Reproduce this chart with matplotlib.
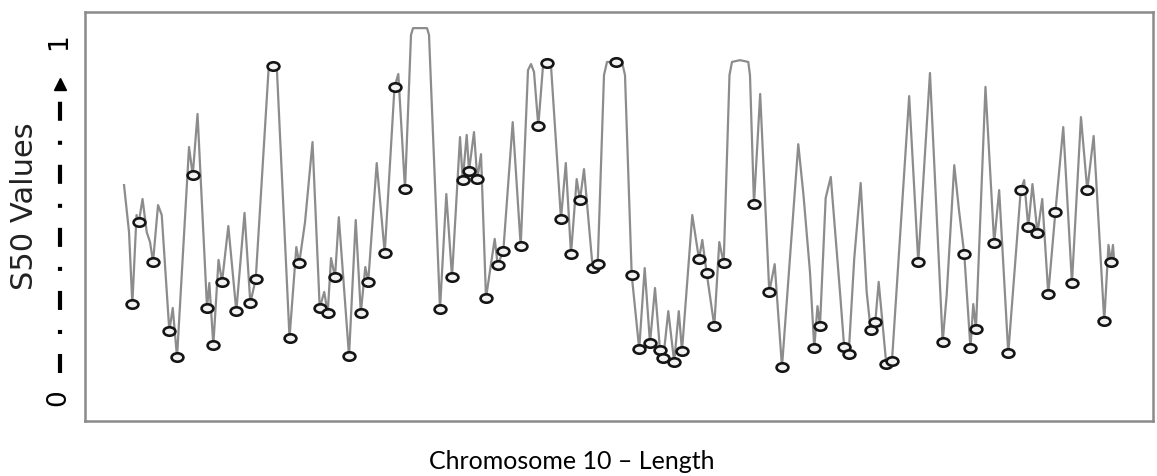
import matplotlib
matplotlib.use("Agg")
import matplotlib.pyplot as plt
from matplotlib.path import Path
from matplotlib.transforms import Affine2D

plt.rcParams['lines.scale_dashes'] = False

# S50 profile along chromosome 10 (position in arbitrary length units)
pos = [1, 6, 9.3, 13.5, 15.8, 19.5, 23.7, 27, 30, 35, 38.7, 45.3, 46.3, 49.7, 54,
       66, 69.7, 74.5, 84, 86.3, 90.3, 95.5, 99, 105.3, 113.3, 121.5, 127.3, 132.7,
       145.5, 147, 149.5, 152, 154, 166.5, 173.3, 176.2, 182, 189.5, 196.7, 201.2,
       204.7, 208, 212, 215.8, 226, 232.7, 237.8, 242.3, 245.2, 253.7, 261.7, 271.5,
       275.3, 282, 288, 290, 304, 306, 317, 323.3, 329, 337, 339.7, 343.7, 346, 351,
       354.3, 358, 363, 371.7, 374.7, 380.3, 389.7, 397.7, 405, 408, 411, 415.3, 420,
       423.7, 428, 438, 442.8, 448, 453.7, 457, 461, 469.7, 474.7, 481, 484, 493.5,
       499, 502, 508.7, 516.2, 521.7, 527, 532, 537, 540.3, 545.3, 551.2, 555.8, 559,
       569.3, 576, 579.3, 583.7, 591.3, 596.3, 600.7, 606.5, 609, 617, 625.3, 627,
       631, 637.2, 646.3, 651.7, 659, 675.3, 680.5, 687, 691.3, 694.5, 697, 702.7,
       707.8, 717, 721.2, 725.7, 731.3, 737.7, 743.7, 747.7, 752.3, 755.7, 763.3, 769,
       786.2, 795.3, 807, 819.7, 823.7, 831.3, 836, 841.3, 847.5, 850.3, 853, 862.5,
       871.2, 876.2, 885.3, 897.8, 901.2, 905.3, 909.5, 914.5, 919.3, 925.3, 932.4,
       940.3, 949, 958, 964.3, 970.7, 981.3, 985.5, 988, 990, 991]
s50 = [0.598, 0.466, 0.264, 0.514, 0.494, 0.559, 0.466, 0.438, 0.382, 0.542, 0.514,
       0.233, 0.188, 0.253, 0.115, 0.705, 0.626, 0.798, 0.253, 0.323, 0.149, 0.388,
       0.326, 0.483, 0.244, 0.520, 0.267, 0.334, 0.921, 0.935, 0.933, 0.935, 0.916,
       0.169, 0.424, 0.379, 0.494, 0.719, 0.253, 0.298, 0.239, 0.393, 0.340, 0.508,
       0.118, 0.500, 0.239, 0.368, 0.326, 0.660, 0.407, 0.874, 0.910, 0.587, 1.020,
       1.039, 1.039, 1.020, 0.250, 0.573, 0.340, 0.733, 0.612, 0.739, 0.638, 0.747,
       0.615, 0.685, 0.281, 0.447, 0.374, 0.413, 0.775, 0.427, 0.921, 0.938, 0.916,
       0.764, 0.933, 0.941, 0.933, 0.503, 0.660, 0.404, 0.615, 0.556, 0.643, 0.365,
       0.376, 0.907, 0.944, 0.944, 0.944, 0.907, 0.346, 0.138, 0.365, 0.154, 0.309,
       0.135, 0.112, 0.244, 0.101, 0.244, 0.132, 0.514, 0.390, 0.444, 0.351, 0.202,
       0.438, 0.379, 0.907, 0.944, 0.949, 0.944, 0.907, 0.545, 0.854, 0.298, 0.376,
       0.087, 0.713, 0.570, 0.354, 0.140, 0.258, 0.202, 0.562, 0.621, 0.298, 0.143,
       0.124, 0.393, 0.604, 0.298, 0.191, 0.213, 0.326, 0.096, 0.104, 0.848, 0.382,
       0.913, 0.157, 0.289, 0.654, 0.528, 0.404, 0.140, 0.264, 0.194, 0.874, 0.435,
       0.584, 0.126, 0.584, 0.612, 0.480, 0.601, 0.463, 0.559, 0.292, 0.522, 0.761,
       0.323, 0.789, 0.584, 0.736, 0.216, 0.430, 0.382, 0.430, 0.393]

# marked points on the profile
mark_pos = [9.3, 15.8, 30, 46.3, 54, 69.7, 84, 90.3, 99, 113.3, 127.3, 132.7, 149.5,
            166.5, 176.2, 196.7, 204.7, 212, 226, 237.8, 245.2, 261.7, 271.5, 282,
            317, 329, 339.7, 346, 354.3, 363, 374.7, 380.3, 397.7, 415.3, 423.7, 438,
            448, 457, 469.7, 474.7, 493.5, 508.7, 516.2, 527, 537, 540.3, 551.2, 559,
            576, 583.7, 591.3, 600.7, 631, 646.3, 659, 691.3, 697, 721.2, 725.7, 747.7,
            752.3, 763.3, 769, 795.3, 819.7, 841.3, 847.5, 853, 871.2, 885.3, 897.8,
            905.3, 914.5, 925.3, 932.4, 949, 964.3, 981.3, 988]
mark_s50 = [0.264, 0.494, 0.382, 0.188, 0.115, 0.626, 0.253, 0.149, 0.326, 0.244,
            0.267, 0.334, 0.933, 0.169, 0.379, 0.253, 0.239, 0.340, 0.118, 0.239,
            0.326, 0.407, 0.874, 0.587, 0.250, 0.340, 0.612, 0.638, 0.615, 0.281,
            0.374, 0.413, 0.427, 0.764, 0.941, 0.503, 0.404, 0.556, 0.365, 0.376,
            0.944, 0.346, 0.138, 0.154, 0.135, 0.112, 0.101, 0.132, 0.390, 0.351,
            0.202, 0.379, 0.545, 0.298, 0.087, 0.140, 0.202, 0.143, 0.124, 0.191,
            0.213, 0.096, 0.104, 0.382, 0.157, 0.404, 0.140, 0.194, 0.435, 0.126,
            0.584, 0.480, 0.463, 0.292, 0.522, 0.323, 0.584, 0.216, 0.382]

fig = plt.figure(figsize=(11.57, 4.76), dpi=100)
ax = fig.add_axes([0.0735, 0.1155, 0.923, 0.8593])

# flattened circle marker
oval = Path.unit_circle().transformed(Affine2D().scale(1.4, 1.0))

ax.plot(pos, s50, color='#8c8c8c', lw=1.6, solid_joinstyle='round', zorder=2)
ax.plot(mark_pos, mark_s50, ls='none', marker=oval, ms=8.5, mfc='#f2f2f2',
        mec='#151515', mew=1.9, zorder=3)

ax.set_xlim(-38, 1030)
ax.set_ylim(-0.0646, 1.0843)
ax.set_xticks([])
ax.set_yticks([0, 1])
ax.set_yticklabels(['0', '1'], rotation=90, va='center', ha='center', fontsize=19)
ax.tick_params(axis='y', length=0, pad=19)
for sp in ax.spines.values():
    sp.set_color('#8a8a8a')
    sp.set_linewidth(1.8)

# dashed arrow between the 0 and 1 labels
trans = ax.get_yaxis_transform()
ax.plot([-0.0234, -0.0234], [0.07, 0.865], transform=trans, color='black', lw=3,
        dashes=(13.7, 14.4, 2.9, 14.4), dash_capstyle='butt', clip_on=False)
ax.plot([-0.0234], [0.883], transform=trans, marker='^', ms=8.5, color='black',
        clip_on=False)

fig.text(0.0216, 0.566, 'S50 Values', rotation=90, ha='center', va='center',
         fontsize=22, color='#222222')
fig.text(0.494, 0.0147, 'Chromosome 10 \u2013 Length', ha='center', va='baseline',
         fontsize=18, family='Lato', color='#000000')

fig.savefig('out.png', dpi=100)
